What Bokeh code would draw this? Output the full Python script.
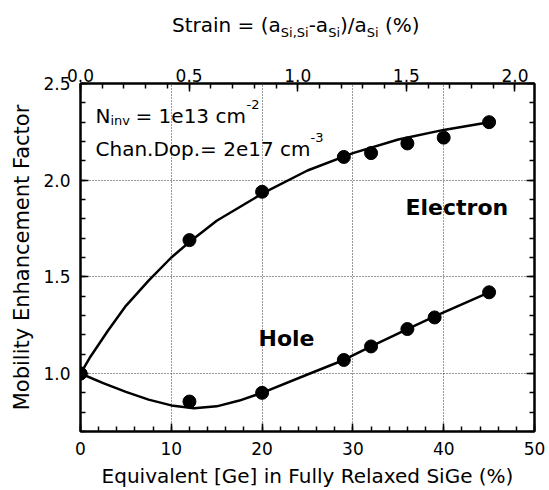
from bokeh.plotting import figure
from bokeh.models import (Range1d, LinearAxis, Label, SingleIntervalTicker,
                          NumeralTickFormatter, CustomJSTickFormatter, Div)
from bokeh.layouts import column
from bokeh.embed import file_html
from bokeh.resources import INLINE

# ---- data ----
GE_RANGE = [0, 50]
FACTOR_RANGE = [0.7, 2.5]
STRAIN_RANGE = [0.0, 2.09]   # top axis: strain (%) matching Ge 0..50 %

ELECTRON_X = [0, 12, 20, 29, 32, 36, 40, 45]
ELECTRON_Y = [1.00, 1.69, 1.94, 2.12, 2.14, 2.19, 2.22, 2.30]
HOLE_X = [0, 12, 20, 29, 32, 36, 39, 45]
HOLE_Y = [1.00, 0.855, 0.90, 1.07, 1.14, 1.23, 1.29, 1.42]

ELECTRON_FIT_X = [0, 1, 3, 5, 7.5, 10, 12, 15, 20, 25, 30, 35, 40, 45]
ELECTRON_FIT_Y = [1.00, 1.08, 1.22, 1.35, 1.48, 1.60, 1.68, 1.79, 1.93, 2.05, 2.14, 2.21, 2.26, 2.30]
HOLE_FIT_X = [0, 2.5, 5, 7.5, 10, 12.5, 15, 17.5, 20, 25, 29, 32, 36, 39, 45]
HOLE_FIT_Y = [1.00, 0.95, 0.905, 0.865, 0.835, 0.82, 0.83, 0.86, 0.90, 0.995, 1.07, 1.14, 1.23, 1.295, 1.42]

FONT = "DejaVu Sans"

W, H_TOTAL = 549, 490
DIV_H = 45
H = H_TOTAL - DIV_H
FRAME_L, FRAME_R, FRAME_T, FRAME_B = 80, 534, 83, 431   # page pixels

p = figure(width=W, height=H, output_backend="svg", toolbar_location=None,
           x_range=Range1d(*GE_RANGE), y_range=Range1d(*FACTOR_RANGE),
           min_border_left=FRAME_L, min_border_right=W - FRAME_R,
           min_border_top=FRAME_T - DIV_H, min_border_bottom=H_TOTAL - FRAME_B,
           background_fill_color="white", border_fill_color="white")
p.outline_line_color = "black"
p.outline_line_width = 2

def style_axis(ax, label_size="17px"):
    ax.axis_line_color = "black"
    ax.axis_line_width = 2
    ax.major_tick_in = 8
    ax.major_tick_out = 0
    ax.minor_tick_in = 5
    ax.minor_tick_out = 0
    ax.major_tick_line_color = "black"
    ax.minor_tick_line_color = "black"
    ax.major_tick_line_width = 1.5
    ax.minor_tick_line_width = 1.5
    ax.major_label_text_font = FONT
    ax.major_label_text_font_size = label_size
    ax.major_label_text_color = "black"
    ax.axis_label_text_font = FONT
    ax.axis_label_text_font_style = "normal"
    ax.axis_label_text_color = "black"

# bottom axis
xa = p.xaxis[0]
xa.ticker = SingleIntervalTicker(interval=10, num_minor_ticks=5)
style_axis(xa)
xa.major_label_standoff = 10
xa.axis_label = "Equivalent [Ge] in Fully Relaxed SiGe (%)"
xa.axis_label_text_font_size = "20px"
xa.axis_label_standoff = 6

# left axis
ya = p.yaxis[0]
ya.ticker = SingleIntervalTicker(interval=0.5, num_minor_ticks=5)
ya.formatter = NumeralTickFormatter(format="0.0")
style_axis(ya)
ya.major_label_standoff = 10
ya.axis_label = "Mobility Enhancement Factor"
ya.axis_label_text_font_size = "21px"
ya.axis_label_standoff = 6

# right axis (ticks only)
ra = LinearAxis(ticker=SingleIntervalTicker(interval=0.5, num_minor_ticks=5),
                formatter=CustomJSTickFormatter(code="return ''"))
style_axis(ra)
ra.major_label_standoff = 0
p.add_layout(ra, "right")

# top axis: strain
p.extra_x_ranges = {"strain": Range1d(*STRAIN_RANGE)}
ta = LinearAxis(x_range_name="strain",
                ticker=SingleIntervalTicker(interval=0.5, num_minor_ticks=5),
                formatter=NumeralTickFormatter(format="0.0"))
style_axis(ta)
ta.major_label_standoff = 2
p.add_layout(ta, "above")

# grid
p.xgrid.ticker = SingleIntervalTicker(interval=10)
p.ygrid.ticker = SingleIntervalTicker(interval=0.5)
for g in (p.xgrid[0], p.ygrid[0]):
    g.grid_line_color = "#333333"
    g.grid_line_dash = "1 2"
    g.grid_line_width = 1

# curves and points
p.line(ELECTRON_FIT_X, ELECTRON_FIT_Y, line_color="black", line_width=2.5)
p.line(HOLE_FIT_X, HOLE_FIT_Y, line_color="black", line_width=2.5)
p.scatter(ELECTRON_X, ELECTRON_Y, size=13, color="black")
p.scatter(HOLE_X, HOLE_Y, size=13, color="black")

# text annotations (screen units relative to the frame, y up from frame bottom)
def lab(text, px, py, size, bold=False):
    p.add_layout(Label(x=px - FRAME_L, y=FRAME_B - py, x_units="screen", y_units="screen",
                       text=text, text_font=FONT, text_font_size=size,
                       text_font_style="bold" if bold else "normal",
                       text_color="black", text_baseline="alphabetic", text_align="left"))

lab("N", 95, 115, "20px")
lab("inv", 110, 120, "13px")
lab("= 1e13 cm", 135, 115, "20px")
lab("-2", 246, 104, "13px")
lab("Chan.Dop.= 2e17 cm", 95, 148, "20px")
lab("-3", 310, 137, "13px")

lab("Electron", 405, 207, "22px", bold=True)
lab("Hole", 258, 338, "22px", bold=True)

# top axis title with subscripts
SUB = '<span style="font-size:13px;position:relative;top:5px">%s</span>'
title_html = (
    '<div style="font-family:\'DejaVu Sans\';font-size:20px;line-height:20px;'
    'padding-left:172px;padding-top:15px;color:black;white-space:nowrap">'
    'Strain = (a' + SUB % 'Si,Si' + '-a' + SUB % 'Si' + ')/a' + SUB % 'Si' + ' (%)'
    '</div>'
)
title = Div(text=title_html, width=W, height=DIV_H, margin=(0, 0, 0, 0))

layout = column(title, p, spacing=0)
open("out.html", "w").write(file_html(layout, INLINE))
